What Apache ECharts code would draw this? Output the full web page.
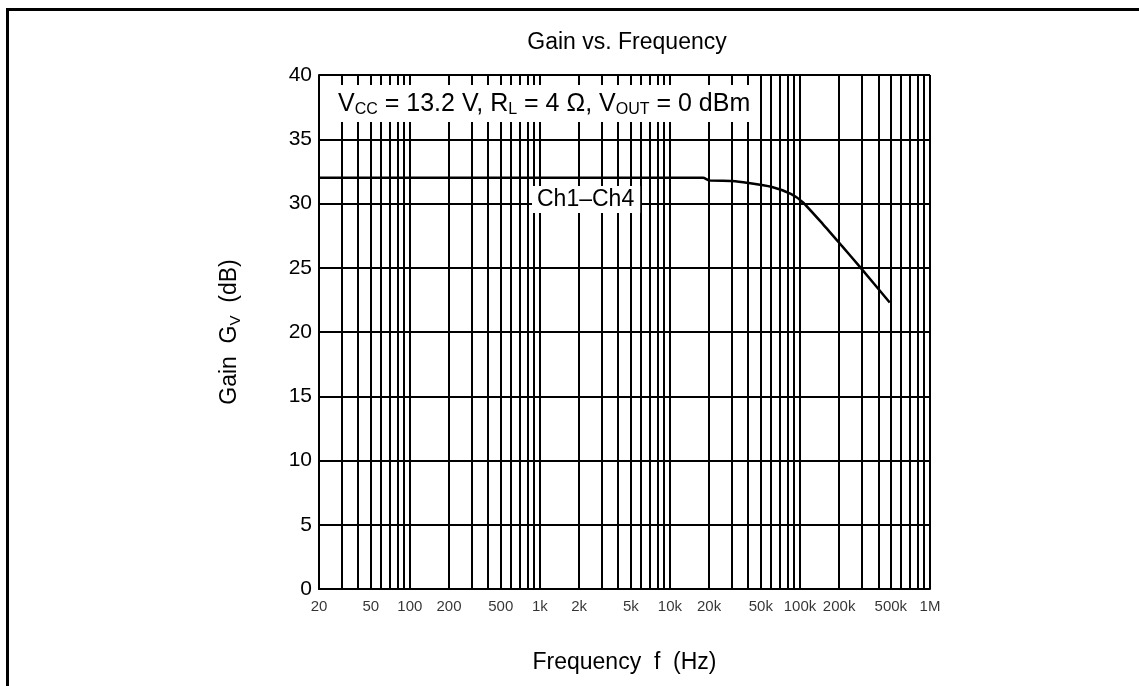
<!DOCTYPE html>
<html>
<head>
<meta charset="utf-8">
<script src="https://cdn.jsdelivr.net/npm/echarts@6/dist/echarts.min.js"></script>
<style>
html,body{margin:0;padding:0;background:#fff;}
#chart{width:1139px;height:686px;}
</style>
</head>
<body>
<div id="chart"></div>
<script>
// ---- data ----
const freqHz = [20, 100, 1000, 10000, 18000, 20000, 30000, 40000, 60000, 85000, 105000, 150000, 210000, 290000, 490000];
const gainDb = [32, 32, 32, 32, 32, 31.8, 31.75, 31.6, 31.3, 30.75, 30.1, 28.4, 26.7, 25.05, 22.3];
const tickFreqs = [20, 50, 100, 200, 500, 1000, 2000, 5000, 10000, 20000, 50000, 100000, 200000, 500000, 1000000];
const tickLabels = ['20', '50', '100', '200', '500', '1k', '2k', '5k', '10k', '20k', '50k', '100k', '200k', '500k', '1M'];
const gridDecades = [10, 100, 1000, 10000, 100000, 1000000];
const gridMultipliers = [1, 2, 3, 4, 5, 6, 7, 8, 9];
const yTicks = [0, 5, 10, 15, 20, 25, 30, 35, 40];

const FONT = "'Liberation Sans', Arial, sans-serif";
const gridFreqs = [];
gridDecades.forEach(d => gridMultipliers.forEach(m => {
  const f = d * m;
  if (f > 20 && f <= 1000000) gridFreqs.push(f);
}));

const chart = echarts.init(document.getElementById('chart'));
const option = {
  backgroundColor: '#fff',
  animation: false,
  title: {
    text: 'Gain vs. Frequency',
    left: 622,
    textAlign: 'center',
    top: 26,
    textStyle: { fontFamily: FONT, fontSize: 23, fontWeight: 'normal', color: '#000' }
  },
  grid: { left: 319, top: 75, width: 611, height: 514, containLabel: false },
  xAxis: {
    type: 'log',
    logBase: 10,
    min: 20,
    max: 1000000,
    axisLine: { show: true, lineStyle: { color: '#000', width: 2 } },
    axisTick: { show: false },
    axisLabel: { show: false },
    splitLine: { show: false },
    minorSplitLine: { show: false },
    name: 'Frequency  f  (Hz)',
    nameLocation: 'middle',
    nameGap: 62,
    nameTextStyle: { fontFamily: FONT, fontSize: 23, color: '#000' }
  },
  yAxis: {
    type: 'value',
    min: yTicks[0],
    max: yTicks[yTicks.length - 1],
    interval: 5,
    axisLine: { show: true, lineStyle: { color: '#000', width: 2 } },
    axisTick: { show: false },
    axisLabel: { margin: 7, fontFamily: FONT, fontSize: 21, color: '#000' },
    splitLine: { show: true, lineStyle: { color: '#000', width: 2 } },
    name: '{a|Gain  G}{s|V}{a|  (dB)}',
    nameLocation: 'middle',
    nameRotate: 90,
    nameGap: 76,
    nameTextStyle: {
      rich: {
        a: { fontFamily: FONT, fontSize: 23, color: '#000' },
        s: { fontFamily: FONT, fontSize: 15, color: '#000', padding: [11, 0, 0, 0] }
      }
    }
  },
  series: [
    {
      name: 'grid',
      type: 'line',
      data: [],
      silent: true,
      markLine: {
        silent: true,
        symbol: 'none',
        label: { show: false },
        lineStyle: { color: '#000', width: 2, type: 'solid' },
        data: gridFreqs.map(f => ({ xAxis: f }))
      }
    },
    {
      name: 'Ch1-Ch4',
      type: 'line',
      data: freqHz.map((f, i) => [f, gainDb[i]]),
      showSymbol: false,
      smooth: 0.2,
      lineStyle: { color: '#000', width: 2.5 },
      z: 5
    },
    {
      name: 'ticklabels',
      type: 'scatter',
      data: tickFreqs.map(f => [f, 0]),
      symbolSize: 0,
      clip: false,
      silent: true,
      label: {
        show: true,
        position: 'bottom',
        distance: 10,
        fontFamily: FONT,
        fontSize: 15,
        color: '#000',
        formatter: p => tickLabels[p.dataIndex]
      }
    }
  ],
  graphic: [
    {
      type: 'rect',
      z: 200,
      silent: true,
      shape: { x: 7.5, y: 9.5, width: 1300, height: 900 },
      style: { fill: 'none', stroke: '#000', lineWidth: 3 }
    },
    {
      type: 'text',
      z: 100,
      left: 332,
      top: 85,
      silent: true,
      style: {
        text: '{a|V}{s|CC}{a| = 13.2 V, R}{s|L}{a| = 4 Ω, V}{s|OUT}{a| = 0 dBm}',
        backgroundColor: '#fff',
        padding: [6, 6, 4, 6],
        rich: {
          a: { fontFamily: FONT, fontSize: 25, fill: '#000' },
          s: { fontFamily: FONT, fontSize: 16, fill: '#000', padding: [11, 0, 0, 0] }
        }
      }
    },
    {
      type: 'text',
      z: 100,
      left: 532,
      top: 186,
      silent: true,
      style: {
        text: 'Ch1–Ch4',
        font: '23px ' + FONT,
        fill: '#000',
        backgroundColor: '#fff',
        padding: [2, 6, 2, 5]
      }
    }
  ]
};
chart.setOption(option);
</script>
</body>
</html>
